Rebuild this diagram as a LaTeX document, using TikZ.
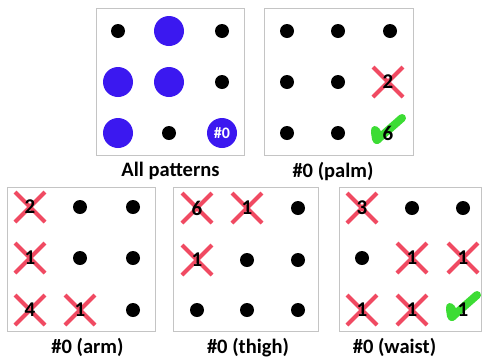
\documentclass[tikz,border=0pt]{standalone}
\usepackage{fontspec}
\setmainfont{Carlito}
\usetikzlibrary{positioning}
\definecolor{cBlue}{HTML}{3B18F0}
\definecolor{cCross}{HTML}{F04A62}
\definecolor{cTick}{HTML}{3CDC34}
\definecolor{cFrame}{HTML}{C4C4C4}

\begin{document}
\begin{tikzpicture}[x=1pt,y=-1pt,
  frame/.style={draw=cFrame,line width=0.9pt,inner sep=0,anchor=north west},
  dot/.style={circle,fill=black,minimum size=14pt,inner sep=0},
  big/.style={circle,fill=cBlue,minimum size=30pt,inner sep=0},
  cross/.style={draw=cCross,line width=4pt},
  tick/.style={draw=cTick,line width=8pt,line cap=round,line join=round},
  num/.style={font=\bfseries\fontsize{21}{21}\selectfont,inner sep=0},
  caption/.style={font=\bfseries\fontsize{20.5}{22}\selectfont,inner sep=0}]

  \useasboundingbox (0,0) rectangle (482,357);

  % panel frames
  \node[frame,minimum width=148pt,minimum height=147pt] (fa) at (96,8) {};
  \node[frame,minimum width=149pt,minimum height=147pt] (fb) at (264,8) {};
  \node[frame,minimum width=148pt,minimum height=144pt] (fc) at (7,187) {};
  \node[frame,minimum width=145pt,minimum height=144pt] (fd) at (173,187) {};
  \node[frame,minimum width=142pt,minimum height=144pt] (fe) at (339,187) {};

  % black dots
  \foreach \x/\y/\id in {118/31/a1, 222/31/a3, 222/82/a6, 169/133/a8,
    287/31/b1, 338/31/b2, 390/31/b3, 287/82/b4, 338/82/b5, 287/133/b7, 338/133/b8,
    80/207/c2, 133/207/c3, 80/258/c5, 133/258/c6, 133/310/c9,
    298/208/d3, 247/260/d5, 298/260/d6, 197/310/d7, 247/310/d8, 298/310/d9,
    412/208/e2, 463/208/e3, 362/258/e4}
    {\node[dot] (\id) at (\x,\y) {};}

  % blue circles
  \foreach \x/\y/\id in {169/31/a2, 118/82/a4, 169/82/a5, 118/133/a7}
    {\node[big] (\id) at (\x,\y) {};}
  \node[big,text=white,font=\bfseries\fontsize{16}{16}\selectfont] (a9) at (222,133) {\#0};

  % crossed out
  \foreach \x/\y/\n/\id in {388/82/2/b6,
    30/207/2/c1, 30/258/1/c4, 30/310/4/c7, 80/310/1/c8,
    197/208/6/d1, 247/208/1/d2, 197/260/1/d4,
    362/208/3/e1, 412/258/1/e5, 463/258/1/e6, 362/310/1/e7, 412/310/1/e8}
    {\draw[cross] (\x-15,\y-15) -- (\x+15,\y+15) (\x-15,\y+15) -- (\x+15,\y-15);
     \node[num] (\id) at (\x,\y) {\n};}

  % ticked
  \foreach \x/\y/\n/\id in {388/133/6/b9, 463/310/1/e9}
    {\draw[tick] (\x-13,\y-3) -- (\x-11,\y+7) -- (\x+14,\y-15);
     \draw[tick,line width=10pt] (\x-12,\y-1) -- (\x-11,\y+6);
     \node[num] (\id) at (\x,\y) {\n};}

  % captions
  \node[caption,below=6pt of fa] (ta) {All patterns};
  \node[caption,below=6pt of fb,xshift=-6pt] (tb) {\#0 (palm)};
  \node[caption,below=6pt of fc,xshift=6pt] (tc) {\#0 (arm)};
  \node[caption,below=6pt of fd,xshift=2pt] (td) {\#0 (thigh)};
  \node[caption,below=6pt of fe,xshift=-16pt] (te) {\#0 (waist)};
\end{tikzpicture}
\end{document}
